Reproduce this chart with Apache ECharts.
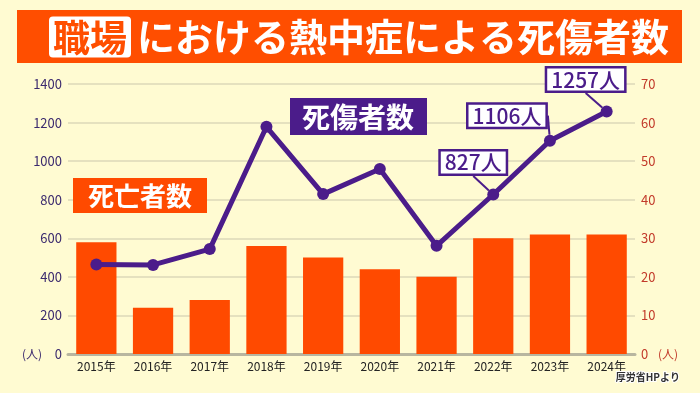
<!DOCTYPE html>
<html><head><meta charset="utf-8">
<script src="https://cdn.jsdelivr.net/npm/echarts@6/dist/echarts.min.js"></script>
<style>html,body{margin:0;padding:0;background:#fffbd2;}#c{width:700px;height:393px;}</style>
</head><body><div id="c"></div>
<script>
const years = ['2015年','2016年','2017年','2018年','2019年','2020年','2021年','2022年','2023年','2024年'];
const deaths = [29, 12, 14, 28, 25, 22, 20, 30, 31, 31];
const casualties = [464, 462, 544, 1178, 829, 959, 561, 827, 1106, 1257];
const leftTicks = {min: 0, max: 1400, interval: 200};
const rightTicks = {min: 0, max: 70, interval: 10};
const labelledFrom = 7;

const PURPLE = '#4b1c8a';
const ORANGE = '#ff4a00';
const FONT = '"Noto Sans CJK JP", "Noto Sans", sans-serif';
const calloutShift = {7: [-20, -32], 8: [-43, -25], 9: [-21, -32]};

const chart = echarts.init(document.getElementById('c'), null, {renderer: 'canvas'});
chart.setOption({
  backgroundColor: '#fffbd2',
  animation: false,
  textStyle: {fontFamily: FONT},
  grid: {left: 68, right: 65, top: 84, bottom: 39},
  xAxis: {
    type: 'category', data: years,
    axisTick: {show: false},
    axisLine: {lineStyle: {color: '#b8b6a0', width: 3}},
    axisLabel: {color: '#222', fontSize: 12, margin: 6, fontFamily: FONT}
  },
  yAxis: [
    {type: 'value', min: leftTicks.min, max: leftTicks.max, interval: leftTicks.interval,
     axisLine: {show: false}, axisTick: {show: false},
     axisLabel: {color: '#3b2a6e', fontSize: 13, margin: 6, fontFamily: FONT, formatter: v => String(v)},
     splitLine: {lineStyle: {color: '#dcd9b8', width: 1.5}}},
    {type: 'value', min: rightTicks.min, max: rightTicks.max, interval: rightTicks.interval,
     axisLine: {show: false}, axisTick: {show: false},
     axisLabel: {color: '#c23a2a', fontSize: 13, margin: 6, fontFamily: FONT, formatter: v => String(v)},
     splitLine: {show: false}}
  ],
  series: [
    {type: 'bar', yAxisIndex: 1, data: deaths, barWidth: '71%',
     itemStyle: {color: ORANGE}, z: 2},
    {type: 'line', yAxisIndex: 0, z: 5,
     data: casualties.map((v, i) => i >= labelledFrom ? {value: v, label: {show: true}} : v),
     lineStyle: {color: PURPLE, width: 5},
     itemStyle: {color: PURPLE},
     symbol: 'circle', symbolSize: 12,
     label: {show: false, position: 'inside',
       formatter: p => p.value + '人',
       color: PURPLE, fontSize: 21, fontWeight: 500, fontFamily: FONT,
       backgroundColor: '#fff', borderColor: PURPLE, borderWidth: 2.5,
       padding: [1, 4, 0, 4]},
     labelLine: {show: true, lineStyle: {color: PURPLE, width: 2}},
     labelLayout: p => {
       const s = calloutShift[p.dataIndex];
       return s ? {dx: s[0], dy: s[1]} : {};
     }}
  ],
  graphic: [
    {type: 'rect', shape: {x: 17, y: 10, width: 665, height: 53}, style: {fill: '#ff4e00'}, z: 10},
    {type: 'text', x: 359, y: 37, z: 11,
     style: {text: '{a|職場}{b|における熱中症による死傷者数}', align: 'center', verticalAlign: 'middle',
       rich: {
         a: {backgroundColor: '#fff', fill: '#ff4e00', color: '#ff4e00', fontSize: 37, fontWeight: 'bold', fontFamily: FONT, borderRadius: 4, padding: [3, 4, 1, 4]},
         b: {fill: '#fff', color: '#fff', fontSize: 38, fontWeight: 'bold', fontFamily: FONT, padding: [0, 0, 0, 6]}
       }}},
    {type: 'rect', shape: {x: 73, y: 178, width: 134, height: 35}, style: {fill: ORANGE}, z: 10},
    {type: 'text', x: 140, y: 196, z: 11,
     style: {text: '死亡者数', fill: '#fff', font: 'bold 26px ' + FONT, align: 'center', verticalAlign: 'middle'}},
    {type: 'rect', shape: {x: 290, y: 98, width: 137, height: 37}, style: {fill: PURPLE}, z: 10},
    {type: 'text', x: 358, y: 117, z: 11,
     style: {text: '死傷者数', fill: '#fff', font: 'bold 28px ' + FONT, align: 'center', verticalAlign: 'middle'}},
    {type: 'text', x: 32, y: 354, z: 11,
     style: {text: '(人)', fill: '#3b2a6e', font: '12px ' + FONT, align: 'center', verticalAlign: 'middle'}},
    {type: 'text', x: 668, y: 354, z: 11,
     style: {text: '(人)', fill: '#c23a2a', font: '12px ' + FONT, align: 'center', verticalAlign: 'middle'}},
    {type: 'text', x: 680, y: 377, z: 11,
     style: {text: '厚労省HPより', fill: '#333', stroke: '#fff', lineWidth: 2, font: 'bold 10px ' + FONT, align: 'right', verticalAlign: 'middle'}}
  ]
});
</script></body></html>
